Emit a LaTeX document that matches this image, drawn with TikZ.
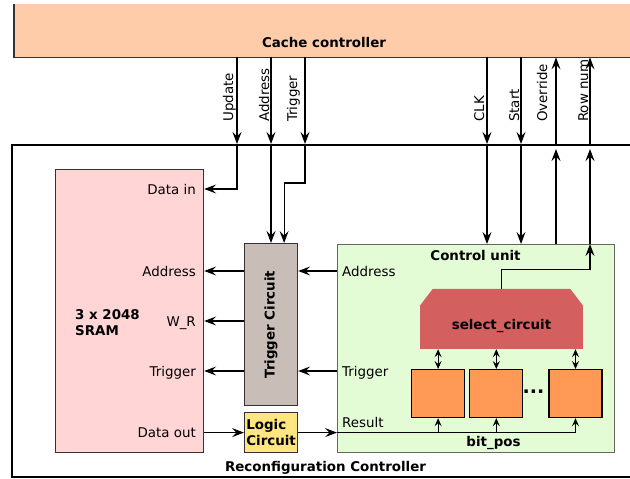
\documentclass[tikz,border=0pt]{standalone}
\usepackage{fontspec}
\setmainfont{DejaVu Sans}
\usetikzlibrary{arrows.meta,positioning}

\definecolor{cachefill}{HTML}{FFCCAA}
\definecolor{sramfill}{HTML}{FFD5D5}
\definecolor{trigfill}{HTML}{C8BEB7}
\definecolor{logicfill}{HTML}{FFE680}
\definecolor{cufill}{HTML}{E3FCD6}
\definecolor{selfill}{HTML}{D35F5F}
\definecolor{cellfill}{HTML}{FF9955}

\begin{document}
\begin{tikzpicture}[
  x=1pt, y=-1pt,
  font=\fontsize{13.4}{16}\selectfont,
  block/.style={draw=black!80, line width=1.2pt, anchor=north west, inner sep=0pt},
  cell/.style={draw=black, line width=1.2pt, fill=cellfill, minimum width=53pt, minimum height=48pt, inner sep=0pt},
  arr/.style={-{Stealth[length=12pt,width=9pt,inset=4.5pt]}, line width=1.1pt},
  sarr/.style={-{Stealth[length=8pt,width=7pt,inset=3pt]}, line width=1.1pt},
  darr/.style={{Stealth[length=8pt,width=7pt,inset=3pt]}-{Stealth[length=8pt,width=7pt,inset=3pt]}, line width=1.1pt},
  sig/.style={rotate=90, anchor=base west, inner sep=0pt},
  port/.style={inner sep=0pt, text height=11pt, text depth=0pt},
  title/.style={font=\fontsize{13.4}{16}\selectfont\bfseries, inner sep=0pt}
]
  \useasboundingbox (0,0) rectangle (630,479);

  % outer blocks
  \node[fill=cachefill, minimum width=640pt, minimum height=53pt, anchor=north west, inner sep=0pt] (cache) at (14,4) {};
  \draw[black!80, line width=1.2pt] (cache.north west) -- (cache.south west) -- (cache.south east);
  \node[title, anchor=base] (cachelbl) at (324,47) {Cache controller};

  \node[draw, line width=2pt, minimum width=640pt, minimum height=332pt, anchor=north west, inner sep=0pt] (rc) at (11,144) {};
  \node[title, anchor=base] (rclbl) at (325.5,471) {Reconfiguration Controller};
  \coordinate (rctop) at ([yshift=-5pt]rc.north);

  % inner blocks
  \node[block, fill=sramfill, minimum width=148pt, minimum height=283pt] (sram) at (55,169) {};
  \node[title, anchor=north west, align=left] (sramlbl) at (75,309) {3 x 2048\\SRAM};
  \node[block, fill=trigfill, minimum width=53pt, minimum height=162pt] (trig) at (244,243) {};
  \node[title, rotate=90] (triglbl) at (trig.center) {Trigger Circuit};
  \node[block, fill=logicfill, minimum width=53pt, minimum height=40pt, align=left, font=\fontsize{13.4}{16}\selectfont\bfseries] (logic) at (244,412) {Logic\\Circuit};
  \node[block, draw=black!60, fill=cufill, minimum width=277pt, minimum height=208pt] (cu) at (337,244) {};
  \node[title, anchor=base] (culbl) at (475.5,260) {Control unit};

  \node[fill=selfill, minimum width=163pt, minimum height=43pt, inner sep=0pt, text height=8pt, text depth=5pt, font=\fontsize{13.4}{16}\selectfont\bfseries] (sel) at (501.5,327.5) {select\_circuit};
  \fill[selfill] (sel.north west) -- ++(13,-17) -- ([xshift=-13pt,yshift=17pt]sel.north east) -- (sel.north east) -- cycle;

  \node[cell, anchor=north west] (b1) at (411,369) {};
  \node[cell, right=4pt of b1] (b2) {};
  \node[cell, right=25pt of b2] (b3) {};
  \node[title, font=\fontsize{19}{20}\selectfont\bfseries] (dots) at (533.5,392) {...};
  \node[title, anchor=base] (bitpos) at (493.5,446) {bit\_pos};

  % ports
  \node[port, anchor=east] (din) at (196,189) {Data in};
  \node[port, anchor=east] (sadr) at (196,271) {Address};
  \node[port, anchor=east] (swr) at (196,321) {W\_R};
  \node[port, anchor=east] (strg) at (196,371) {Trigger};
  \node[port, anchor=east] (sdout) at (196,432) {Data out};
  \node[port, anchor=west] (cadr) at (342,271) {Address};
  \node[port, anchor=west] (ctrg) at (342,371) {Trigger};
  \node[inner sep=0pt, anchor=base west] (cres) at (342,427) {Result};

  % signal columns
  \foreach \n/\x in {upd/237, adr/271, trg/305, clk/487, stt/521, ovr/556, row/590}
    \coordinate (\n) at (\x,0);
  \node[sig] (updlbl) at (233,122) {Update};
  \node[sig] (adrlbl) at (269,122) {Address};
  \node[sig] (trglbl) at (297,122) {Trigger};
  \node[sig] (clklbl) at (484,122) {CLK};
  \node[sig] (sttlbl) at (519,122) {Start};
  \node[sig] (ovrlbl) at (547,122) {Override};
  \node[sig] (rowlbl) at (588,122) {Row num};

  \foreach \n in {upd,adr,trg,clk,stt}
    \draw[arr] (\n |- cache.south) -- (\n |- rc.north);
  \foreach \n in {ovr,row}
    \draw[arr] (\n |- rc.north) -- (\n |- cache.south);

  \draw[arr] (upd |- rc.north) |- (sram.east |- din);
  \draw[arr] (adr |- rc.north) -- (adr |- trig.north);
  \draw[arr] (trg |- rc.north) -- ++(0,39) -| ([xshift=13pt]trig.north);
  \foreach \n in {clk,stt}
    \draw[arr] (\n |- rc.north) -- (\n |- cu.north);
  \draw[arr] (ovr |- cu.north) -- (ovr |- rctop);
  \draw[arr] ([yshift=17pt]sel.north) -- ++(0,-19) -| (row |- cu.north);
  \draw[arr] (row |- cu.north) -- (row |- rctop);

  \foreach \p in {sadr,swr,strg}
    \draw[arr] (trig.west |- \p) -- (sram.east |- \p);
  \foreach \p in {cadr,ctrg}
    \draw[arr] (cu.west |- \p) -- (trig.east |- \p);
  \draw[arr] (sram.east |- logic.west) -- (logic.west);
  \draw[arr] (logic.east) -- (cu.west |- logic.east);

  \draw[sarr] (cu.west |- logic.east) -| (b3.south);
  \foreach \c in {b1,b2}
    \draw[sarr] (\c.south |- logic.east) -- (\c.south);
  \foreach \c in {b1,b2,b3}
    \draw[darr] (\c.north |- sel.south) -- (\c.north);
\end{tikzpicture}
\end{document}
